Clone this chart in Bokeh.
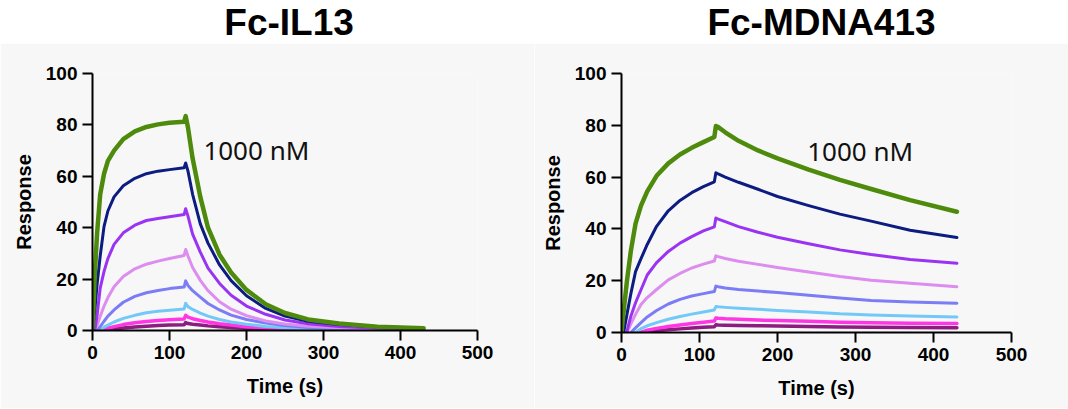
from bokeh.plotting import figure
from bokeh.layouts import column, row
from bokeh.models import Range1d, FixedTicker
from bokeh.core.properties import value
from bokeh.embed import file_html
from bokeh.resources import INLINE

nan = float("nan")

# ---------------- data ----------------
panel_titles = ["Fc-IL13", "Fc-MDNA413"]
conc_label = "1000 nM"
x_ticks = [0, 100, 200, 300, 400, 500]
y_ticks = [0, 20, 40, 60, 80, 100]

series_colors = ["#4e8a0c", "#0c1c80", "#9a34f2", "#dd8cef",
                 "#7c7cf6", "#72c9f7", "#ff36e4", "#8c1c80"]
series_widths = [4.5, 3, 3, 3, 3, 3, 3.5, 3.5]

# Fc-IL13 sensorgrams (time in s, response)
il13_time = [0, 3, 6, 10, 15, 20, 28, 40, 55, 70, 85, 100, 119, 121, 124,
             130, 140, 150, 165, 180, 200, 225, 250, 280, 320, 370, 430]
il13_green = [0, 22, 38, 53, 61, 66, 70, 74.5, 77.5, 79.2, 80.2, 80.8, 81.2, 83.4, 79,
              67, 52, 40, 29.5, 22.6, 15.8, 10.2, 6.8, 4.3, 2.7, 1.5, 0.9]
il13_navy = [0, 8, 18, 29, 40.5, 46.5, 52, 56.3, 59.2, 61, 62, 62.6, 63.3, 65.2, 62,
             53, 41.5, 34, 25.5, 19.4, 13.5, 8.6, 5.6, 3.6, 2.3, 1.4, 0.8]
il13_purple = [nan, 0, 6, 16.5, 23, 28, 33.5, 38, 41, 42.8, 43.6, 44.3, 45.1, 47.4, 44.5,
               37.5, 30.5, 24.3, 18.3, 13.7, 9.5, 6.3, 4.1, 2.6, 1.6, 0.9, 0.6]
il13_plum = [nan, 0, 2, 5.5, 9.5, 12.8, 17, 21, 24, 25.8, 27, 28, 29.2, 31.5, 29,
             24.5, 19.5, 15.5, 11.2, 8.3, 5.8, 3.7, 2.5, 1.7, 1.1, 0.7, 0.5]
il13_cornflower = [nan, nan, 0, 1.5, 3.6, 5.6, 8, 11, 13.3, 14.7, 15.6, 16.3, 16.9, 19.3, 17.5,
                   15.5, 13, 10.5, 8, 6, 4.3, 2.9, 1.9, 1.2, 0.8, 0.5, 0.4]
il13_sky = [nan, nan, nan, 0, 1.3, 2.1, 3.3, 4.7, 5.9, 6.9, 7.5, 7.9, 8.4, 10.6, 9.3,
            8.2, 6.8, 5.6, 4.3, 3.3, 2.4, 1.6, 1.1, 0.8, 0.5, 0.4, 0.3]
il13_magenta = [nan, nan, nan, 0, 0.4, 0.9, 1.5, 2.3, 3.0, 3.5, 3.9, 4.2, 4.5, 5.9, 5.2,
                4.6, 3.9, 3.3, 2.6, 2.1, 1.5, 1.1, 0.8, 0.6, 0.4, 0.3, 0.3]
il13_dark = [nan, nan, nan, nan, 0, 0.3, 0.6, 1.0, 1.4, 1.7, 1.9, 2.1, 2.2, 3.1, 2.7,
             2.4, 2.1, 1.8, 1.5, 1.2, 0.9, 0.7, 0.5, 0.4, 0.3, 0.2, 0.2]

# Fc-MDNA413 sensorgrams
mdna_time = [0, 3, 7, 12, 18, 25, 33, 45, 60, 75, 90, 105, 119, 121, 124,
             133, 150, 175, 200, 240, 280, 320, 370, 430]
mdna_green = [0, 9, 20, 31.5, 42, 49, 54.5, 60.5, 65.3, 68.7, 71.3, 73.5, 75.5, 79.7, 79.3,
              77.3, 74.0, 70.3, 67.2, 62.9, 58.9, 55.4, 51.1, 46.6]
mdna_navy = [nan, 0.5, 7, 15, 23.5, 28.5, 34, 41, 47, 51, 54, 56.3, 58.2, 61.7, 61.2,
             60, 58, 55.3, 52.5, 49, 45.7, 43, 39.5, 36.7]
mdna_purple = [nan, nan, 0.5, 6.3, 11.5, 16.5, 22.2, 27, 31.3, 34.5, 37, 39.2, 40.8, 44.2, 43.8,
               42.8, 40.9, 38.7, 36.8, 34.3, 31.9, 30.1, 28.2, 26.7]
mdna_plum = [nan, nan, 0, 3.3, 7, 10.8, 13.5, 16.6, 20.3, 22.8, 24.9, 26.4, 27.6, 29.6, 29.3,
             28.6, 27.5, 26.3, 25.1, 23.4, 21.6, 20.2, 19, 17.7]
mdna_cornflower = [nan, nan, nan, 0, 1.8, 3.8, 6, 8.5, 11, 12.8, 14.1, 15, 15.8, 17.9, 17.7,
                   17.2, 16.6, 16, 15.4, 14.4, 13.3, 12.4, 11.8, 11.3]
mdna_sky = [nan, nan, nan, nan, 0, 1.5, 2.6, 3.8, 5.1, 6.2, 7.1, 7.9, 8.7, 10, 9.9,
            9.7, 9.4, 9.0, 8.5, 7.9, 7.2, 6.8, 6.4, 6.0]
mdna_magenta = [nan, nan, nan, nan, nan, 0, 0.9, 1.6, 2.3, 2.9, 3.5, 4.0, 4.4, 5.6, 5.5,
                5.3, 5.1, 4.8, 4.6, 4.3, 4.0, 3.8, 3.6, 3.5]
mdna_dark = [nan, nan, nan, nan, nan, 0, 0.3, 0.7, 1.1, 1.4, 1.7, 2.0, 2.2, 3.0, 2.9,
             2.8, 2.7, 2.6, 2.5, 2.3, 2.1, 2.0, 1.9, 1.8]

il13_series = [il13_green, il13_navy, il13_purple, il13_plum,
               il13_cornflower, il13_sky, il13_magenta, il13_dark]
mdna_series = [mdna_green, mdna_navy, mdna_purple, mdna_plum,
               mdna_cornflower, mdna_sky, mdna_magenta, mdna_dark]

# label anchors (left edge, vertical middle), data units
il13_label_pos = (144, 70.4)
mdna_label_pos = (238, 70.1)

# ---------------- styling ----------------
GRAY = "#f7f7f7"
AX_FONT = "Liberation Sans"


def make_panel(times, series, label_pos, fw, fh, bl, br, bt, bb):
    p = figure(frame_width=fw, frame_height=fh,
               min_border_left=bl, min_border_right=br,
               min_border_top=bt, min_border_bottom=bb,
               x_range=Range1d(0, 500), y_range=Range1d(0, 100),
               toolbar_location=None, output_backend="svg",
               background_fill_color=GRAY, border_fill_color=GRAY,
               outline_line_color=None)
    p.grid.visible = False
    p.xaxis.ticker = FixedTicker(ticks=x_ticks)
    p.yaxis.ticker = FixedTicker(ticks=y_ticks)
    for ax in (p.xaxis[0], p.yaxis[0]):
        ax.axis_line_width = 2
        ax.axis_line_color = "black"
        ax.major_tick_line_width = 2
        ax.major_tick_line_color = "black"
        ax.major_tick_out = 10
        ax.major_tick_in = 0
        ax.minor_tick_line_color = None
        ax.major_label_text_font = AX_FONT
        ax.major_label_text_font_style = "bold"
        ax.major_label_text_font_size = "19px"
        ax.major_label_text_color = "black"
        ax.major_label_standoff = 5
        ax.axis_label_text_font = AX_FONT
        ax.axis_label_text_font_style = "bold"
        ax.axis_label_text_font_size = "20px"
        ax.axis_label_text_color = "black"
    p.xaxis.axis_label = "Time (s)"
    p.yaxis.axis_label = "Response"
    p.xaxis.axis_label_standoff = 13
    p.yaxis.axis_label_standoff = 8

    # draw lowest series first, green last on top
    for vals, col, w in reversed(list(zip(series, series_colors, series_widths))):
        p.line(times, vals, line_color=col, line_width=w, line_join="round", line_cap="round")

    p.text(x=[label_pos[0]], y=[label_pos[1]], text=[conc_label],
           text_font=value("Noto Sans"), text_font_size="26px",
           text_color="#111111", text_align="left", text_baseline="middle")
    return p


p1 = make_panel(il13_time, il13_series, il13_label_pos, 385, 257, 92, 57, 30, 78)
p2 = make_panel(mdna_time, mdna_series, mdna_label_pos, 390, 259, 87, 57, 25, 81)

tf = figure(width=1068, height=43, x_range=Range1d(0, 1068), y_range=Range1d(0, 43),
            toolbar_location=None, output_backend="svg", min_border=0,
            outline_line_color=None, background_fill_color="white",
            border_fill_color="white")
tf.axis.visible = False
tf.grid.visible = False
tf.text(x=[288.6, 821], y=[21.5, 21.5], text=panel_titles,
        text_font=value("Liberation Sans"), text_font_style="bold",
        text_font_size="37px", text_color="black",
        text_align="center", text_baseline="middle")

layout = column(tf, row(p1, p2, spacing=0), spacing=0)

open("out.html", "w").write(file_html(layout, INLINE))
